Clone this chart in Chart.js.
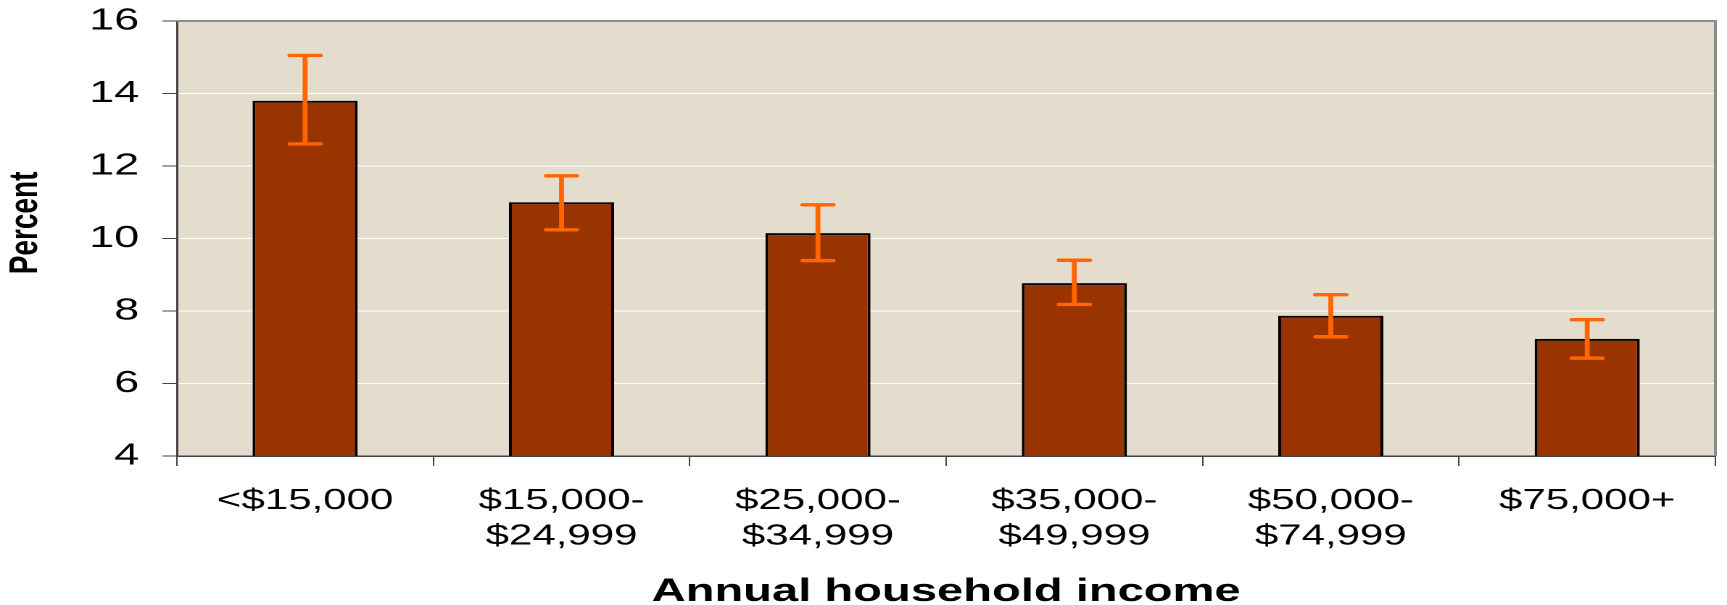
<!DOCTYPE html>
<html>
<head>
<meta charset="utf-8">
<script src="https://cdn.jsdelivr.net/npm/chart.js@4/dist/chart.umd.min.js"></script>
<style>
body{margin:0;background:#fff;}
canvas{display:block;}
</style>
</head>
<body>
<!-- the source picture is stretched sideways, so the canvas is drawn narrow and widened by css -->
<canvas id="chart" width="1191" height="605" style="width:1727px;height:605px"></canvas>
<script>
// DATA
let categories = ["<$15,000", ["$15,000-","$24,999"], ["$25,000-","$34,999"], ["$35,000-","$49,999"], ["$50,000-","$74,999"], "$75,000+"];
let percent  = [13.8, 11.0, 10.15, 8.77, 7.87, 7.23];
let errLow   = [12.61, 10.24, 9.39, 8.18, 7.29, 6.70];
let errHigh  = [15.05, 11.73, 10.93, 9.40, 8.45, 7.76];
let yTicks   = [4, 6, 8, 10, 12, 14, 16];

// PLOT BACKGROUND + BORDER
let plotArea = {
id:"plotArea",
beforeDraw(chart){
let {ctx, chartArea:a} = chart;
ctx.save();
ctx.fillStyle = "#E4DCCD";
ctx.fillRect(a.left, a.top, a.right - a.left, a.bottom - a.top);
ctx.restore();
},
afterDraw(chart){
let {ctx, chartArea:a} = chart;
ctx.save();
ctx.strokeStyle = "#8c8c8c";
ctx.lineWidth = 2;
ctx.beginPath();
ctx.moveTo(a.left, a.top);
ctx.lineTo(a.right, a.top);
ctx.lineTo(a.right, a.bottom);
ctx.stroke();
ctx.restore();
}
};

// ERROR BARS
let errorBars = {
id:"errorBars",
afterDatasetsDraw(chart){
let ctx = chart.ctx;
let y = chart.scales.y;
let meta = chart.getDatasetMeta(0);
ctx.save();
ctx.strokeStyle = "#FF6600";
ctx.lineWidth = 3.4;
ctx.lineCap = "round";
meta.data.forEach((bar, i) => {
let x = bar.x;
let top = y.getPixelForValue(errHigh[i]);
let bot = y.getPixelForValue(errLow[i]);
let w = 10.5;
ctx.beginPath();
ctx.moveTo(x, top); ctx.lineTo(x, bot);
ctx.moveTo(x - w, top); ctx.lineTo(x + w, top);
ctx.moveTo(x - w, bot); ctx.lineTo(x + w, bot);
ctx.stroke();
});
ctx.restore();
}
};

new Chart(document.getElementById("chart"), {
type:"bar",
data:{
labels:categories,
datasets:[{
data:percent,
backgroundColor:"#993300",
borderColor:"#000",
borderWidth:2,
borderSkipped:false,
categoryPercentage:1,
barPercentage:0.41
}]
},
options:{
responsive:false,
devicePixelRatio:2,
animation:false,
layout:{padding:{left:0, right:8, top:21, bottom:0}},
plugins:{legend:{display:false}, tooltip:{enabled:false}},
scales:{
x:{
offset:true,
grid:{drawOnChartArea:false, drawTicks:true, tickLength:10, tickColor:"#444"},
border:{color:"#444", width:1.5},
ticks:{color:"#000", font:{family:"Liberation Sans, Arial", size:29, lineHeight:1.23}, padding:17, maxRotation:0, autoSkip:false},
title:{display:true, text:"Annual household income", color:"#000",
font:{family:"Liberation Sans, Arial", size:32.5, weight:"bold", lineHeight:0.8}, padding:0},
afterFit(s){ s.height = 149; }
},
y:{
min:4, max:16,
afterBuildTicks(s){ s.ticks = yTicks.map(v => ({value:v})); },
grid:{color:"#ffffff", lineWidth:1, tickColor:"#444", tickLength:10},
border:{color:"#444", width:1.5},
ticks:{color:"#000", font:{family:"Liberation Sans, Arial", size:31}, padding:16},
// leading spaces nudge the label a bit above the middle, like the original
title:{display:true, text:"    Percent", color:"#000",
font:{family:"Liberation Sans, Arial", size:28, weight:"bold", lineHeight:1}, padding:{top:4, bottom:0}},
afterFit(s){ s.width = 122; s.paddingTop = 0; s.paddingBottom = 0; }
}
}
},
plugins:[plotArea, errorBars]
});
</script>
</body>
</html>
